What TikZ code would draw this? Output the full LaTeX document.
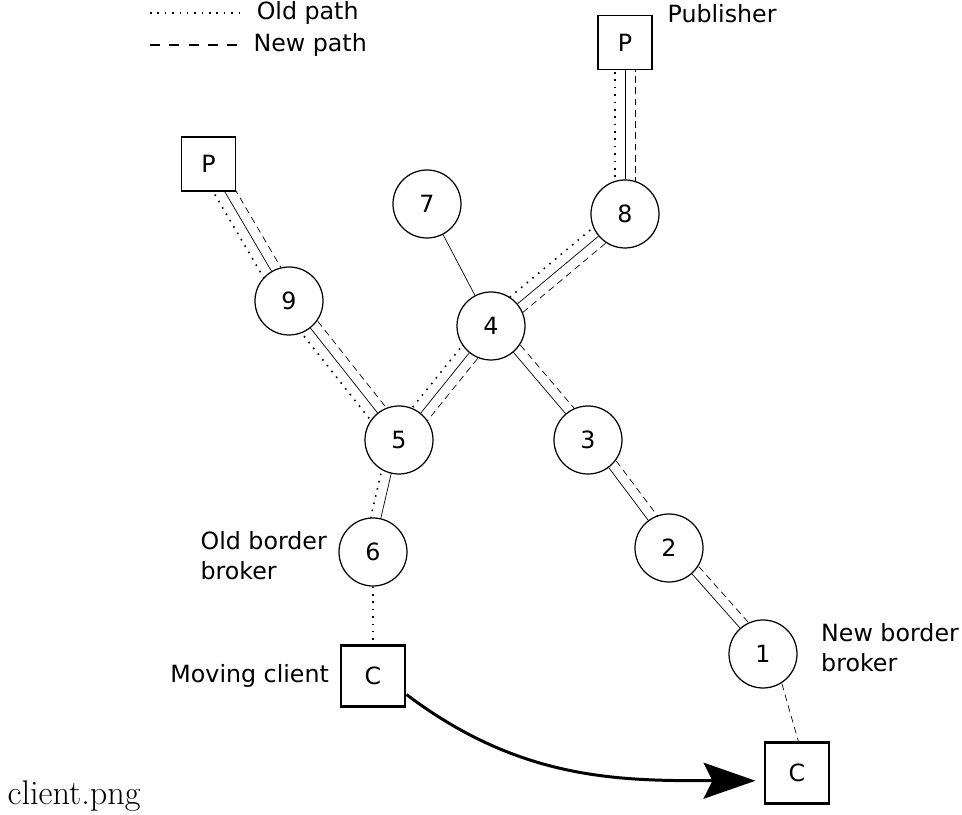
\documentclass[tikz,border=0pt]{standalone}
\usepackage{fontspec}
\newfontfamily\dejavu{DejaVu Sans}
\usetikzlibrary{positioning,calc,backgrounds,arrows.meta}

\begin{document}
\begin{tikzpicture}[font=\dejavu\fontsize{13.5}{17}\selectfont, line width=0.7pt,
	broker/.style={circle,draw,fill=white,minimum size=1.36cm,inner sep=0pt},
	pub/.style={rectangle,draw,fill=white,minimum size=1.08cm,inner sep=0pt},
	client/.style={rectangle,draw,fill=white,line width=1.7pt,minimum width=1.28cm,minimum height=1.22cm,inner sep=0pt},
	lbl/.style={inner sep=0pt,align=left},
	oldpath/.style={line width=0.9pt,dash pattern=on 0.9pt off 3.3pt},
	newpath/.style={dash pattern=on 3.8pt off 2.6pt}]
	\useasboundingbox (0,0) rectangle (19.24,16.3);
	% brokers
	\foreach \p/\x/\y in {1/15.26/3.22, 2/13.38/5.34, 3/11.76/7.50, 4/9.82/9.78, 5/7.98/7.50,
		6/7.46/5.26, 7/8.54/12.22, 8/12.5/12.02, 9/5.78/10.28} {
		\node[broker] (\p) at (\x,\y) {\p};
	};
	% publishers and clients
	\node[pub] (pa) at (12.5,15.45) {P};
	\node[pub] (pb) at (4.17,13.02) {P};
	\node[client] (cold) at (7.46,2.78) {C};
	\node[client] (cnew) at (15.94,0.84) {C};
	\begin{scope}[on background layer]
		% links with old and new paths beside them
		\foreach \a/\b in {pa/8, 8/4, 4/5, pb/9, 9/5} {
			\draw (\a) -- (\b);
			\draw[oldpath] ($(\a)!0.2cm!-90:(\b)$) -- ($(\b)!0.2cm!90:(\a)$);
			\draw[newpath] ($(\a)!0.2cm!90:(\b)$) -- ($(\b)!0.2cm!-90:(\a)$);
		};
		\foreach \a/\b in {4/3, 3/2, 2/1} {
			\draw (\a) -- (\b);
			\draw[newpath] ($(\a)!0.2cm!90:(\b)$) -- ($(\b)!0.2cm!-90:(\a)$);
		};
		\draw (7) -- (4);
		\draw (5) -- (6);
		\draw[oldpath] ($(5)!0.2cm!-90:(6)$) -- ($(6)!0.2cm!90:(5)$);
		\draw[oldpath] (6) -- (cold);
		\draw[newpath] ($(1)!0.2cm!90:(cnew)$) -- ($(cnew)!0.2cm!-90:(1)$);
	\end{scope}
	% moving client
	\draw[line width=1.7pt, -{Stealth[length=1.04cm,width=0.72cm,inset=0.18cm]}, shorten >=0.16cm]
		(cold.-29) to[out=-37,in=180] (cnew.193);
	% labels
	\node[lbl, anchor=base west] (publbl) at (13.34,15.84) {Publisher};
	\node[lbl, left=0.22cm of 6, yshift=-0.07cm] (oldbb) {Old border\\broker};
	\node[lbl, left=0.2cm of cold] (mover) {Moving client};
	\node[lbl, right=0.46cm of 1, yshift=0.13cm] (newbb) {New border\\broker};
	% legend
	\draw[oldpath] (3.0,16.04) -- (4.8,16.04) node[lbl, anchor=west, xshift=0.32cm] (oldkey) {Old path};
	\draw[dash pattern=on 5.6pt off 5.4pt] (3.0,15.4) -- (4.74,15.4) node[lbl, anchor=west, xshift=0.32cm] (newkey) {New path};
	\node[anchor=base west, inner sep=0pt, font=\rmfamily\fontsize{19.5}{22}\selectfont] (fname) at (0.14,0.2) {client.png};
\end{tikzpicture}
\end{document}
